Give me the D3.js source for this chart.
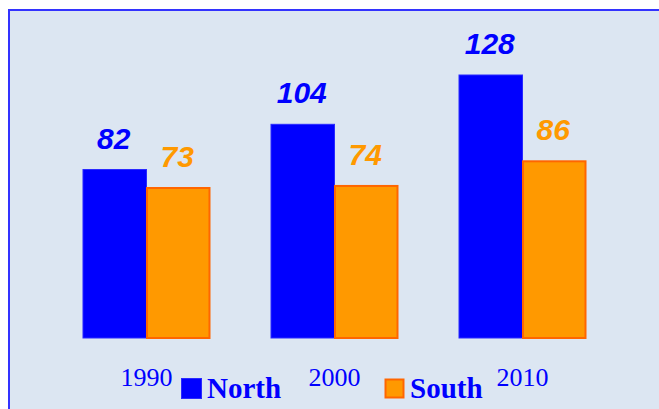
<!DOCTYPE html>
<html><head><meta charset="utf-8">
<script src="https://cdn.jsdelivr.net/npm/d3@7"></script>
<style>html,body{margin:0;padding:0;background:#fff;overflow:hidden}</style>
</head><body>
<svg id="c" width="659" height="409"></svg>
<script>
const years = ["1990", "2000", "2010"];
const seriesNames = ["North", "South"];
const north = [82, 104, 128];
const south = [73, 74, 86];

const svg = d3.select("#c");
const W = 659, H = 409;
const baseY = 338;

// panel
svg.append("rect").attr("x", 9).attr("y", 10).attr("width", W + 10).attr("height", H + 10)
  .attr("fill", "#dce6f2").attr("stroke", "#3333ff").attr("stroke-width", 2);

const x = d3.scaleBand().domain(years).range([52.5, 616.5]).paddingInner(0.3245).paddingOuter(0.1622);
const xs = d3.scaleBand().domain(seriesNames).range([0, x.bandwidth()]);
const y = d3.scaleLinear().domain([0, 128]).range([baseY, baseY - 263]);

const colors = {North: "#0000ff", South: "#ff9900"};
const strokes = {North: "#2a2aff", South: "#ff6600"};
const labelColors = {North: "#0000ff", South: "#ff9900"};
const rows = years.map((yr, i) => ({year: yr, vals: [{s: "North", v: north[i]}, {s: "South", v: south[i]}]}));

const g = svg.selectAll("g.grp").data(rows).join("g").attr("class", "grp")
  .attr("transform", d => `translate(${x(d.year)},0)`);

g.selectAll("rect").data(d => d.vals).join("rect")
  .attr("x", d => xs(d.s) + (d.s === "South" ? 0.5 : 0))
  .attr("y", d => y(d.v))
  .attr("width", d => xs.bandwidth() - (d.s === "South" ? 1 : 0))
  .attr("height", d => baseY - y(d.v))
  .attr("fill", d => colors[d.s])
  .attr("stroke", d => strokes[d.s])
  .attr("stroke-width", d => d.s === "South" ? 2 : 1);

g.selectAll("text.val").data(d => d.vals).join("text").attr("class", "val")
  .attr("x", d => xs(d.s) + xs.bandwidth() / 2 - 1)
  .attr("y", d => y(d.v) - 21)
  .attr("text-anchor", "middle")
  .attr("font-family", "'Liberation Sans', Arial, sans-serif")
  .attr("font-weight", "bold").attr("font-style", "italic")
  .attr("font-size", 30)
  .attr("fill", d => labelColors[d.s])
  .text(d => d.v);

// category labels
svg.selectAll("text.cat").data(years).join("text").attr("class", "cat")
  .attr("x", d => x(d) + x.bandwidth() / 2)
  .attr("y", 386)
  .attr("text-anchor", "middle")
  .attr("font-family", "'Liberation Serif', 'Times New Roman', serif")
  .attr("font-size", 26)
  .attr("fill", "#0000ff")
  .text(d => d);

// legend
const legX = [181, 384];
const lg = svg.selectAll("g.leg").data(seriesNames).join("g").attr("class", "leg")
  .attr("transform", (d, i) => `translate(${legX[i]},378)`);
lg.append("rect").attr("x", d => d === "South" ? 1.5 : 0.5).attr("y", d => d === "South" ? 1.5 : 0.5)
  .attr("width", d => d === "South" ? 18 : 20).attr("height", d => d === "South" ? 18 : 20)
  .attr("fill", d => colors[d]).attr("stroke", d => strokes[d]).attr("stroke-width", d => d === "South" ? 2 : 1);
lg.append("text").attr("x", 26).attr("y", 20)
  .attr("font-family", "'Liberation Serif', 'Times New Roman', serif")
  .attr("font-weight", "bold").attr("font-size", 29)
  .attr("fill", "#0000ff")
  .text(d => d);
</script>
</body></html>
